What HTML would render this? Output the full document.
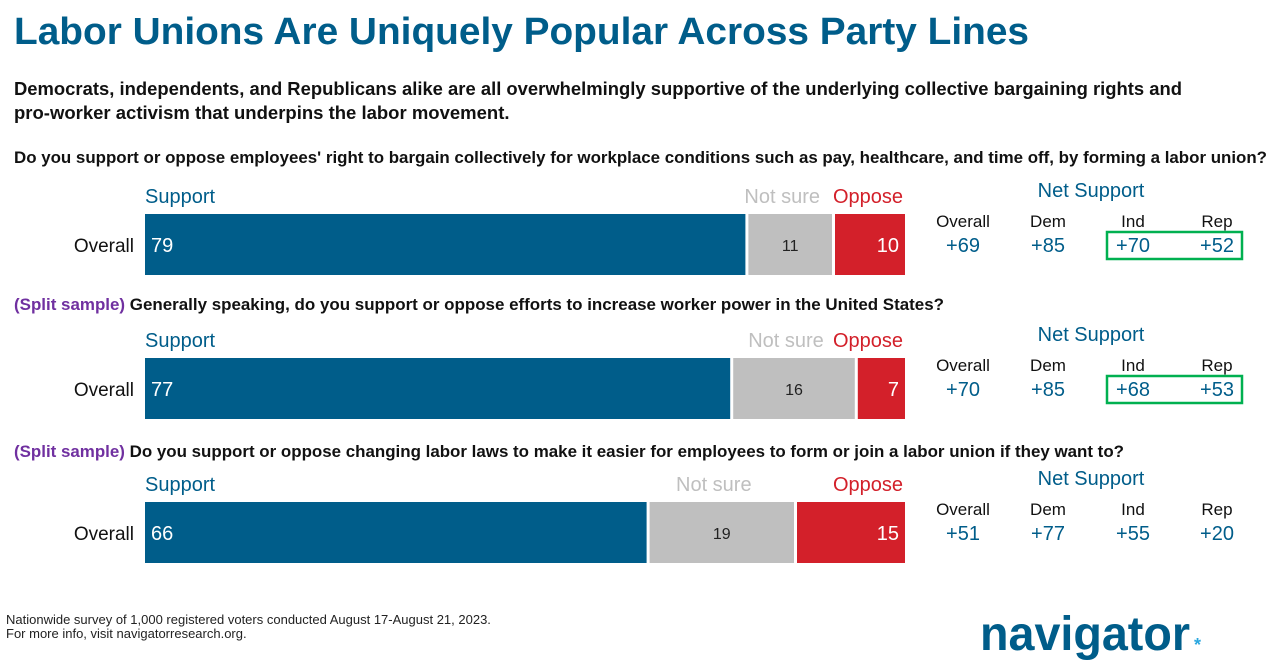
<!DOCTYPE html>
<html><head><meta charset="utf-8">
<style>
body{margin:0;background:#fff;width:1274px;height:667px;overflow:hidden;font-family:"Liberation Sans",sans-serif}
svg{display:block}
</style></head><body>
<svg id="c" width="1274" height="667" xmlns="http://www.w3.org/2000/svg" font-family="Liberation Sans, sans-serif">
<text x="14" y="44" font-size="38" font-weight="bold" fill="#005d8a" textLength="1015" lengthAdjust="spacingAndGlyphs">Labor Unions Are Uniquely Popular Across Party Lines</text>
<text x="14" y="95" font-size="18.5" font-weight="bold" fill="#111" textLength="1168" lengthAdjust="spacingAndGlyphs">Democrats, independents, and Republicans alike are all overwhelmingly supportive of the underlying collective bargaining rights and</text>
<text x="14" y="119" font-size="18.5" font-weight="bold" fill="#111">pro-worker activism that underpins the labor movement.</text>
<text x="6" y="624" font-size="13" fill="#222">Nationwide survey of 1,000 registered voters conducted August 17-August 21, 2023.</text>
<text x="6" y="638" font-size="13" fill="#222">For more info, visit navigatorresearch.org.</text>
<text x="980" y="650" font-size="48" font-weight="bold" fill="#005d8a" textLength="210" lengthAdjust="spacingAndGlyphs">navigator</text>
<text x="1194" y="651" font-size="18" font-weight="bold" fill="#2aa7df">*</text>
<g id="rows"></g>
</svg>
<script>
const questions=["Do you support or oppose employees' right to bargain collectively for workplace conditions such as pay, healthcare, and time off, by forming a labor union?","Generally speaking, do you support or oppose efforts to increase worker power in the United States?","Do you support or oppose changing labor laws to make it easier for employees to form or join a labor union if they want to?"];
const splitSample=[false,true,true];
const support=[79,77,66];
const notSure=[11,16,19];
const oppose=[10,7,15];
const netOverall=["+69","+70","+51"];
const netDem=["+85","+85","+77"];
const netInd=["+70","+68","+55"];
const netRep=["+52","+53","+20"];
const highlight=[true,true,false];

const NS="http://www.w3.org/2000/svg";
const g=document.getElementById('rows');
const x0=145,x1=905,gap=3;
const sx=v=>v/100*(x1-x0);
const qLen=[1253,930,1110];
function el(tag,attrs,text){const e=document.createElementNS(NS,tag);for(const k in attrs)e.setAttribute(k,attrs[k]);if(text!==undefined)e.textContent=text;g.appendChild(e);return e;}
for(let i=0;i<3;i++){
  const top=214+i*144, qy=163+i*147;
  let qt;
  if(splitSample[i]){
    qt=el('text',{x:14,y:qy,'font-size':16.5,'font-weight':'bold',fill:'#111'});
    const s=document.createElementNS(NS,'tspan');s.setAttribute('fill','#7030a0');s.textContent='(Split sample) ';qt.appendChild(s);
    const q=document.createElementNS(NS,'tspan');q.textContent=questions[i];qt.appendChild(q);
  } else {
    qt=el('text',{x:14,y:qy,'font-size':16.5,'font-weight':'bold',fill:'#111'},questions[i]);
  }
  qt.setAttribute('textLength',qLen[i]);
  qt.setAttribute('lengthAdjust','spacingAndGlyphs');
  
  
  const h=61;
  const ws=sx(support[i]), wn=sx(notSure[i]), wo=sx(oppose[i]);
  const xs=x0, xn=x0+ws+gap, xo=x0+ws+wn+2*gap;
  let r=el('rect',{x:xs,y:top,width:ws,height:h,fill:'#005d8a'});
  
  r=el('rect',{x:xn,y:top,width:wn,height:h,fill:'#bfbfbf'});
  
  r=el('rect',{x:xo,y:top,width:Math.max(0,x1-xo),height:h,fill:'#d3202a'});
  
  let t=el('text',{x:xs+6,y:top+38,'font-size':20,fill:'#fff'},support[i]);
  
  t=el('text',{x:xn+wn/2,y:top+37,'font-size':16,fill:'#222','text-anchor':'middle'},notSure[i]);
  
  t=el('text',{x:x1-6,y:top+38,'font-size':20,fill:'#fff','text-anchor':'end'},oppose[i]);
  
  t=el('text',{x:134,y:top+38,'font-size':19,fill:'#111','text-anchor':'end'},'Overall');
  
  const ly=top-11;
  t=el('text',{x:xs,y:ly,'font-size':20,fill:'#005d8a'},'Support');
  
  t=el('text',{x:xn+wn/2-8,y:ly,'font-size':20,fill:'#bfbfbf','text-anchor':'middle'},'Not sure');
  
  t=el('text',{x:x1-2,y:ly,'font-size':20,fill:'#d3202a','text-anchor':'end'},'Oppose');
  
  t=el('text',{x:1091,y:top-17,'font-size':20,fill:'#005d8a','text-anchor':'middle'},'Net Support');
  
  const cols=[963,1048,1133,1217], heads=['Overall','Dem','Ind','Rep'], vals=[netOverall[i],netDem[i],netInd[i],netRep[i]];
  for(let c=0;c<4;c++){
    t=el('text',{x:cols[c],y:top+13,'font-size':17,fill:'#111','text-anchor':'middle'},heads[c]);
    
    t=el('text',{x:cols[c],y:top+38,'font-size':20,fill:'#005d8a','text-anchor':'middle'},vals[c]);
    
  }
  if(highlight[i]){
    r=el('rect',{x:1107,y:top+18,width:135,height:27,fill:'none',stroke:'#00b050','stroke-width':2.5});
    
  }
}
</script>
</body></html>
